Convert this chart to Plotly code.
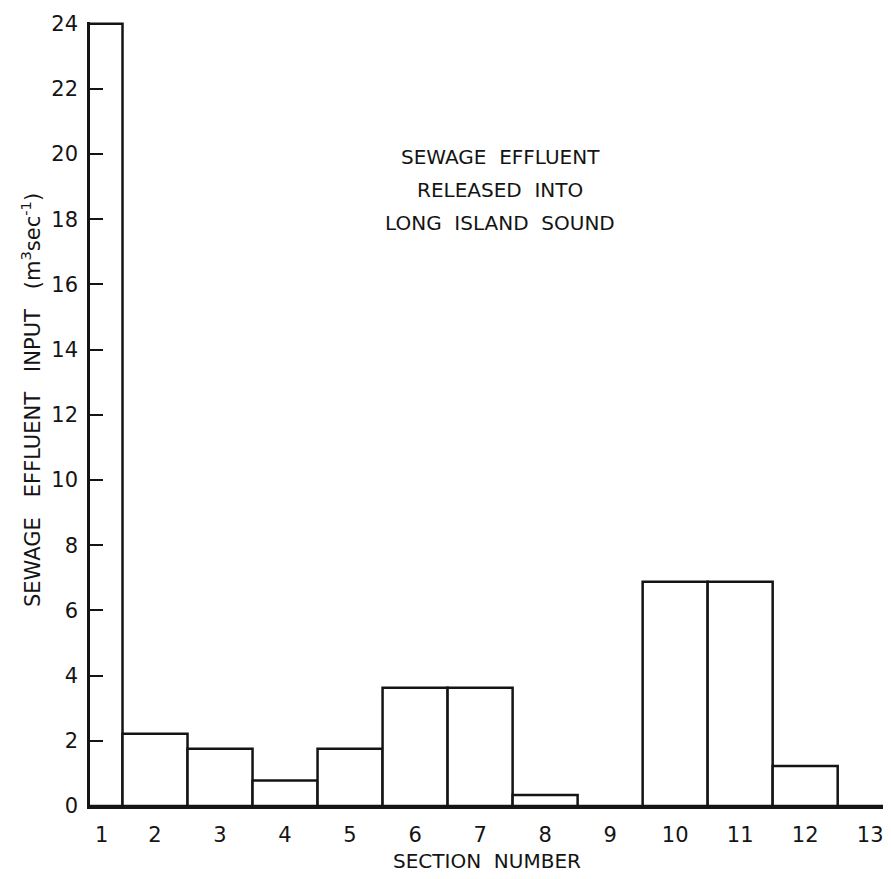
import plotly.graph_objects as go

sections = list(range(1, 14))
effluent = [24.0, 2.22, 1.76, 0.78, 1.76, 3.63, 3.63, 0.34, 0.0, 6.88, 6.88, 1.23, 0.0]
tick_labels = [str(s) for s in sections]
y_ticks = list(range(0, 25, 2))
y_tick_labels = [str(v) for v in y_ticks]
title_lines = ["SEWAGE  EFFLUENT", "RELEASED  INTO", "LONG  ISLAND  SOUND"]

FONT = "DejaVu Sans"
INK = "#141414"

# label "1" sits a little right of the axis in the original
tick_pos = [s + 0.18 if s == 1 else s for s in sections]

# the page body adds an 8px margin, so the figure is drawn 8px in from the corner
OFF = 8
W, H = 891 - OFF, 879 - OFF
L, T, PW, PH = 90 - OFF, 22 - OFF, 801, 784


def px(xp, yp):
    """reference-page pixel -> paper coordinates"""
    return (xp - OFF - L) / PW, 1 - (yp - OFF - T) / PH


fig = go.Figure()
fig.add_trace(go.Bar(
    x=sections, y=effluent, width=1.0,
    marker=dict(color="white", line=dict(color=INK, width=2.5)),
))

annotations = []
for i, line in enumerate(title_lines):
    ax, ay = px(500, 157 + 33 * i)
    annotations.append(dict(text=line, xref="paper", yref="paper", x=ax, y=ay,
                            xanchor="center", yanchor="middle", showarrow=False,
                            font=dict(size=20, family=FONT, color=INK)))
ax, ay = px(31, 400)
annotations.append(dict(text="SEWAGE   EFFLUENT   INPUT   (m<sup>3</sup>sec<sup>-1</sup>)",
                        xref="paper", yref="paper", x=ax, y=ay,
                        xanchor="center", yanchor="middle", showarrow=False,
                        textangle=-90, font=dict(size=21, family=FONT, color=INK)))
ax, ay = px(487, 861)
annotations.append(dict(text="SECTION  NUMBER", xref="paper", yref="paper", x=ax, y=ay,
                        xanchor="center", yanchor="middle", showarrow=False,
                        font=dict(size=20, family=FONT, color=INK)))

fig.update_layout(
    width=W, height=H,
    margin=dict(l=L, r=W - L - PW, t=T, b=H - T - PH, autoexpand=False),
    paper_bgcolor="white", plot_bgcolor="white",
    showlegend=False,
    font=dict(family=FONT, color=INK, size=20),
    xaxis=dict(
        range=[1, 13.32], showgrid=False, zeroline=False, automargin=False,
        showline=True, linecolor=INK, linewidth=2.6,
        tickvals=tick_pos, ticktext=tick_labels, ticks="",
        tickfont=dict(size=21), ticklabelstandoff=8,
    ),
    yaxis=dict(
        range=[0, 24.05], showgrid=False, zeroline=False, automargin=False,
        showline=True, linecolor=INK, linewidth=2.6,
        tickvals=y_ticks, ticktext=y_tick_labels,
        ticks="inside", ticklen=13, tickwidth=2.2, tickcolor=INK,
        tickfont=dict(size=21), ticklabelstandoff=5,
    ),
    annotations=annotations,
)

fig.write_html("out.html")
